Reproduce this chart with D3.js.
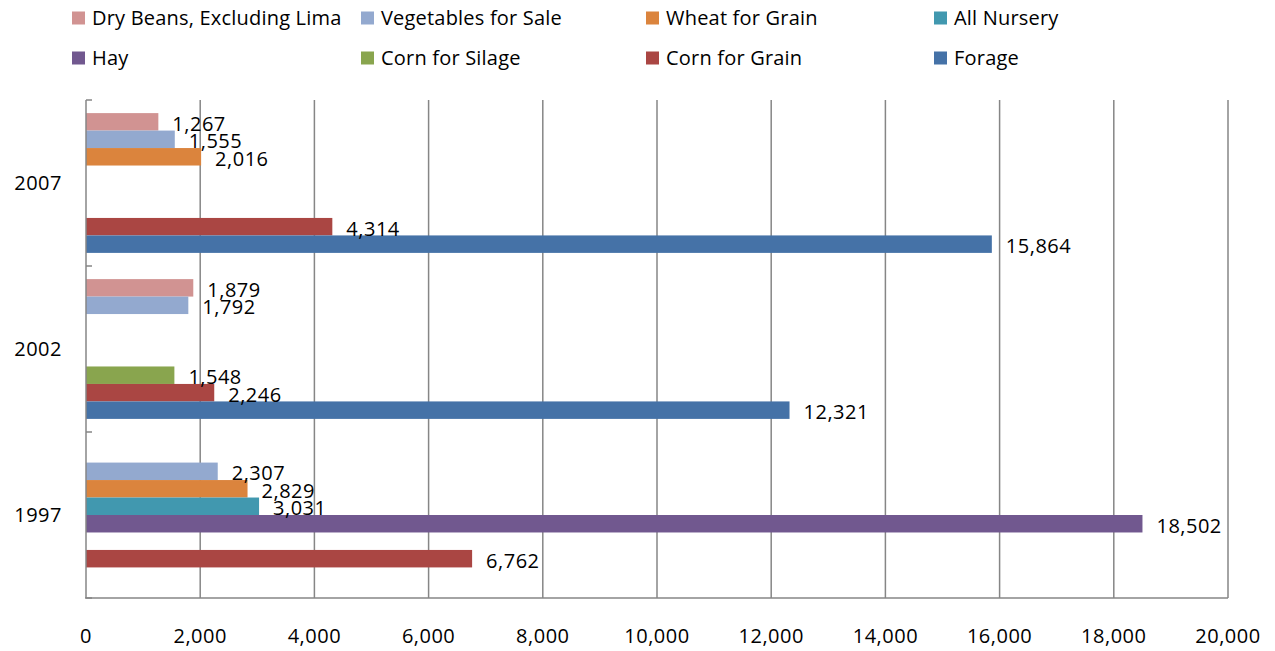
<!DOCTYPE html>
<html>
<head>
<meta charset="utf-8">
<script src="https://cdn.jsdelivr.net/npm/d3@7"></script>
<style>
body { margin: 0; background: #fff; }
text { font-family: "Open Sans", sans-serif; fill: #000; }
</style>
</head>
<body>
<div id="chart"></div>
<script>
(function() {
"use strict";

// chart data
var years = ["2007", "2002", "1997"]; // top to bottom
var series = ["Dry Beans, Excluding Lima", "Vegetables for Sale", "Wheat for Grain", "All Nursery",
              "Hay", "Corn for Silage", "Corn for Grain", "Forage"];
// values per series, in the order 2007, 2002, 1997 (null = no bar)
var dryBeans   = [1267, 1879, null];
var vegetables = [1555, 1792, 2307];
var wheat      = [2016, null, 2829];
var nursery    = [null, null, 3031];
var hay        = [null, null, 18502];
var silage     = [null, 1548, null];
var cornGrain  = [4314, 2246, 6762];
var forage     = [15864, 12321, null];
var xTicks = [0, 2000, 4000, 6000, 8000, 10000, 12000, 14000, 16000, 18000, 20000];

var colours = ["#D19392", "#93A9CF", "#DB843D", "#4198AF", "#71588F", "#89A54E", "#AA4643", "#4572A7"];
var allValues = [dryBeans, vegetables, wheat, nursery, hay, silage, cornGrain, forage];

var width = 1275, height = 651;
var left = 86, right = 1228, top = 100, bottom = 598;

var svg = d3.select("#chart").append("svg")
    .attr("width", width)
    .attr("height", height);

var x = d3.scaleLinear().domain([0, 20000]).range([left, right]);
var y = d3.scaleBand().domain(years).range([top, bottom]).padding(0);
var inner = d3.scaleBand().domain(series).range([0, y.bandwidth()])
    .paddingInner(0).paddingOuter(0.75);

// build flat list of bars
var bars = [];
series.forEach(function(s, i) {
    years.forEach(function(yr, j) {
        var v = allValues[i][j];
        if (v !== null) bars.push({ series: s, year: yr, value: v, colour: colours[i] });
    });
});

// gridlines
svg.append("g").selectAll("line")
    .data(xTicks.slice(1))
    .enter().append("line")
    .attr("x1", function(d) { return x(d); })
    .attr("x2", function(d) { return x(d); })
    .attr("y1", top).attr("y2", bottom)
    .attr("stroke", "#868686").attr("stroke-width", 1.5);

// bars
svg.append("g").selectAll("rect")
    .data(bars)
    .enter().append("rect")
    .attr("x", x(0))
    .attr("y", function(d) { return y(d.year) + inner(d.series); })
    .attr("width", function(d) { return x(d.value) - x(0); })
    .attr("height", inner.bandwidth())
    .attr("fill", function(d) { return d.colour; });

// axes lines
svg.append("line").attr("x1", left).attr("x2", left).attr("y1", top).attr("y2", bottom)
    .attr("stroke", "#868686").attr("stroke-width", 1.5);
svg.append("line").attr("x1", left - 1).attr("x2", right).attr("y1", bottom).attr("y2", bottom)
    .attr("stroke", "#868686").attr("stroke-width", 1.5);

// category tick marks on the boundaries
var bounds = years.map(function(yr) { return y(yr); }).concat([bottom]);
svg.append("g").selectAll("line")
    .data(bounds)
    .enter().append("line")
    .attr("x1", left).attr("x2", left + 6)
    .attr("y1", function(d) { return d; }).attr("y2", function(d) { return d; })
    .attr("stroke", "#868686").attr("stroke-width", 1.5);

// category labels
svg.append("g").selectAll("text")
    .data(years)
    .enter().append("text")
    .attr("x", 62)
    .attr("y", function(d) { return y(d) + y.bandwidth() / 2 + 7; })
    .attr("text-anchor", "end")
    .style("font-size", "20px")
    .style("letter-spacing", "0.5px")
    .text(function(d) { return d; });

// x tick labels
var fmt = d3.format(",");
svg.append("g").selectAll("text")
    .data(xTicks)
    .enter().append("text")
    .attr("x", function(d) { return x(d); })
    .attr("y", 643)
    .attr("text-anchor", "middle")
    .style("font-size", "20px")
    .style("letter-spacing", "0.5px")
    .text(function(d) { return fmt(d); });

// value labels (on top of bars)
svg.append("g").selectAll("text")
    .data(bars)
    .enter().append("text")
    .attr("x", function(d) { return x(d.value) + 14; })
    .attr("y", function(d) { return y(d.year) + inner(d.series) + inner.bandwidth() / 2 + 9; })
    .style("font-size", "20px")
    .style("letter-spacing", "0.5px")
    .text(function(d) { return fmt(d.value); });

// legend, two rows of four
var legendX = [72, 361, 646, 934];
var legend = svg.append("g").selectAll("g")
    .data(series)
    .enter().append("g")
    .attr("transform", function(d, i) {
        return "translate(" + legendX[i % 4] + "," + (i < 4 ? 18 : 58) + ")";
    });
legend.append("rect")
    .attr("x", 0).attr("y", -6.5)
    .attr("width", 13).attr("height", 13)
    .attr("fill", function(d, i) { return colours[i]; });
legend.append("text")
    .attr("x", 20).attr("y", 7)
    .style("font-size", "20px")
    .style("letter-spacing", "0.2px")
    .text(function(d) { return d; });

})();
</script>
</body>
</html>
